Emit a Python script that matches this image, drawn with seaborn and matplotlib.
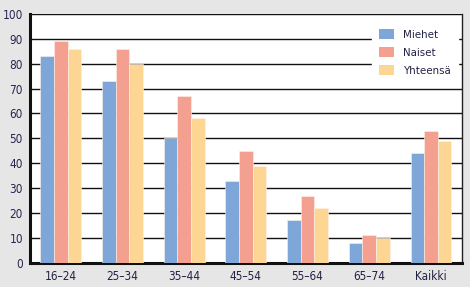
import matplotlib
matplotlib.use("Agg")
import matplotlib.pyplot as plt
import seaborn as sns
import pandas as pd
import numpy as np

categories = ["16–24", "25–34", "35–44", "45–54", "55–64", "65–74", "Kaikki"]
miehet = [83, 73, 50, 33, 17, 8, 44]
naiset = [89, 86, 67, 45, 27, 11, 53]
yhteensa = [86, 80, 58, 39, 22, 10, 49]
series = ["Miehet", "Naiset", "Yhteensä"]
colors = ["#7ea6d9", "#f4a090", "#fdd693"]
yticks = list(range(0, 101, 10))

df = pd.DataFrame({
    "cat": categories * 3,
    "val": miehet + naiset + yhteensa,
    "ser": [s for s in series for _ in categories],
})

sns.set_style("white")
plt.rcParams["font.family"] = ["DejaVu Sans"]
plt.rcParams["font.stretch"] = "condensed"

fig = plt.figure(figsize=(4.7, 2.87), dpi=100, facecolor="#e6e6e6")
ax = fig.add_axes([30/470, 1 - 262.7/287, (461.7-30)/470, (262.7-14)/287])
ax.set_facecolor("white")
sns.barplot(data=df, x="cat", y="val", hue="ser", palette=colors, ax=ax,
            width=0.66, edgecolor="#fdf1ea", linewidth=0.4, saturation=1, zorder=3)

ax.set_ylim(0, 100)
ax.set_xlim(-0.5, len(categories) - 0.5)
ax.set_yticks(yticks)
ax.set_yticklabels([str(v) for v in yticks], color="#2a2450", fontsize=8.5)
ax.yaxis.grid(True, color="#111111", linewidth=1.0, zorder=0)
ax.set_axisbelow(True)
ax.tick_params(axis="y", length=3, width=1, color="#111111", pad=2)
ax.set_xticks(range(len(categories)))
ax.set_xticklabels(categories, fontsize=8.5, color="#222244")
ax.tick_params(axis="x", length=0, pad=5)
ax.set_xticks(np.arange(-0.5, len(categories), 1), minor=True)
ax.tick_params(axis="x", which="minor", length=4, width=1, color="#111111")
ax.set_xlabel("")
ax.set_ylabel("")
for s in ["left", "bottom"]:
    ax.spines[s].set_linewidth(2.2)
    ax.spines[s].set_color("#111111")
ax.spines["right"].set_linewidth(1.0)
ax.spines["right"].set_color("#222222")
ax.spines["top"].set_visible(False)

leg = ax.legend(loc="upper right", bbox_to_anchor=(1.0, 0.985), frameon=True,
                fontsize=8.2, handlelength=1.3, handleheight=1.05, borderpad=0.65,
                labelspacing=0.6, handletextpad=0.8, borderaxespad=0.3)
leg.get_frame().set_facecolor("white")
leg.get_frame().set_edgecolor("white")
leg.get_frame().set_alpha(1)
leg.get_frame().set_boxstyle("square", pad=0)
for t in leg.get_texts():
    t.set_color("#222244")
for h in leg.legend_handles:
    h.set_linewidth(0)
leg.set_zorder(5)

fig.savefig("out.png", dpi=100, facecolor=fig.get_facecolor())
